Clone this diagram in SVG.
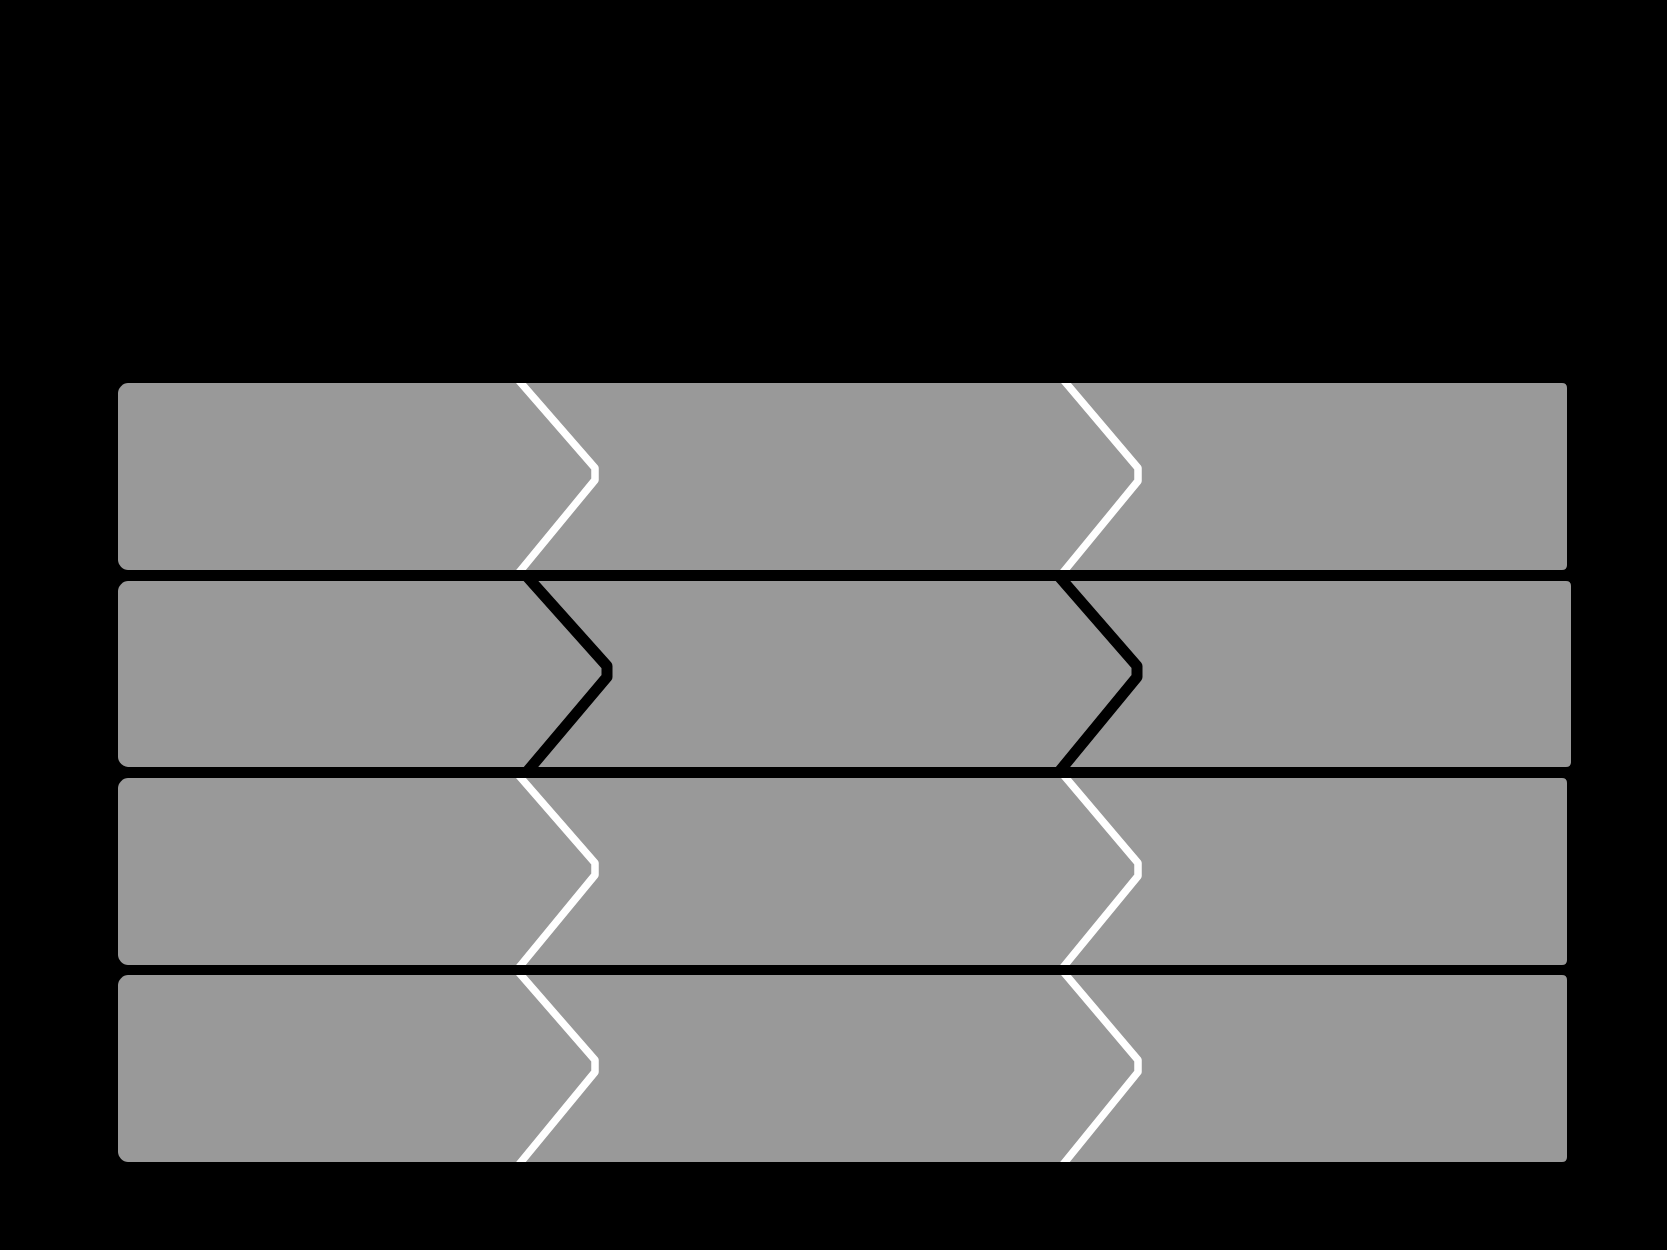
<svg xmlns="http://www.w3.org/2000/svg" width="1667" height="1250" viewBox="0 0 1667 1250">
<style>
.bar{fill:#999999}
.cw{fill:none;stroke:#ffffff;stroke-width:7.5;stroke-linejoin:round;stroke-linecap:square}
.cb{fill:none;stroke:#000000;stroke-width:11;stroke-linejoin:round;stroke-linecap:square}
</style>
<defs>
<clipPath id="c1"><rect x="100" y="383" width="1500" height="187"/></clipPath>
<clipPath id="c2"><rect x="100" y="581" width="1500" height="186"/></clipPath>
<clipPath id="c3"><rect x="100" y="778" width="1500" height="187"/></clipPath>
<clipPath id="c4"><rect x="100" y="975" width="1500" height="187"/></clipPath>
</defs>
<rect width="1667" height="1250" fill="#000000"/>
<g id="row1">
<path class="bar" d="M118,393 C118,388 123,383 128,383 H1562 Q1567,383 1567,388 V565 Q1567,570 1562,570 H128 C123,570 118,565 118,560 Z"/>
<g clip-path="url(#c1)">
<path class="cw" d="M521,383 L595,468 L595,480 L521,570"/>
<path class="cw" d="M1066,383 L1138,468 L1138,481 L1065,570"/>
</g>
</g>
<g id="row2">
<path class="bar" d="M118,591 C118,586 123,581 128,581 H1566 Q1571,581 1571,586 V762 Q1571,767 1566,767 H128 C123,767 118,762 118,757 Z"/>
<g clip-path="url(#c2)">
<path class="cb" d="M531,581 L607,666 L607,677 L531,767"/>
<path class="cb" d="M1063,581 L1137,666 L1137,677 L1063,767"/>
</g>
</g>
<g id="row3">
<path class="bar" d="M118,788 C118,783 123,778 128,778 H1562 Q1567,778 1567,783 V960 Q1567,965 1562,965 H128 C123,965 118,960 118,955 Z"/>
<g clip-path="url(#c3)">
<path class="cw" d="M521,778 L595,863 L595,875 L521,965"/>
<path class="cw" d="M1066,778 L1138,863 L1138,876 L1065,965"/>
</g>
</g>
<g id="row4">
<path class="bar" d="M118,985 C118,980 123,975 128,975 H1562 Q1567,975 1567,980 V1157 Q1567,1162 1562,1162 H128 C123,1162 118,1157 118,1152 Z"/>
<g clip-path="url(#c4)">
<path class="cw" d="M521,975 L595,1060 L595,1072 L521,1162"/>
<path class="cw" d="M1066,975 L1138,1060 L1138,1072 L1065,1162"/>
</g>
</g>
<g id="connectors"/>
</svg>
